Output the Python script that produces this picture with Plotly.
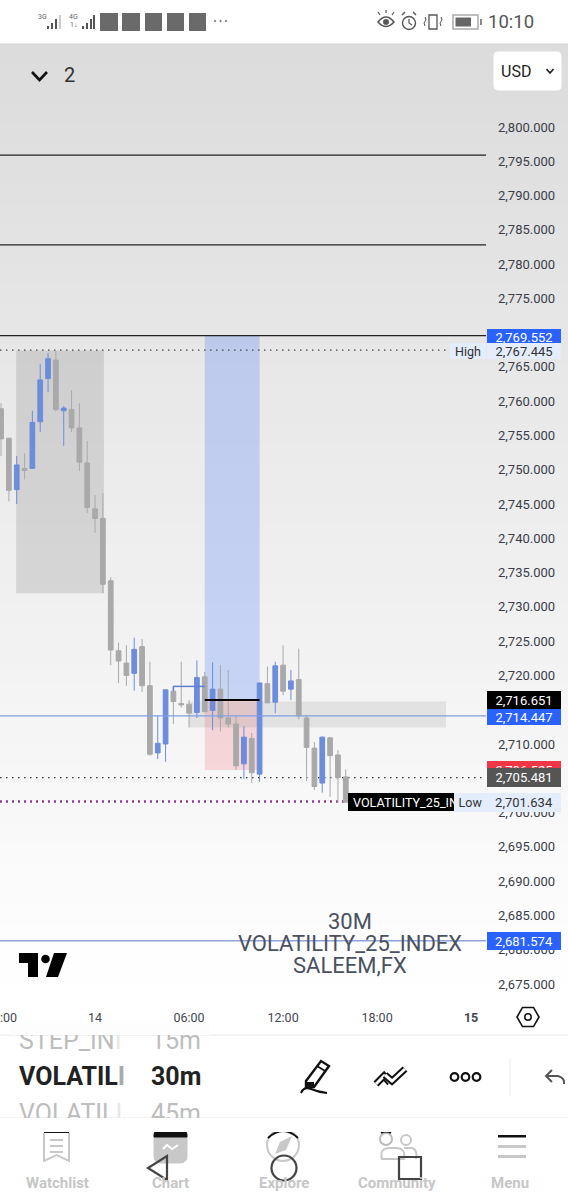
import plotly.graph_objects as go
import pandas as pd
import math

W, H = 568, 1200
CH_T, CH_B, CH_R = 44, 1008, 486

# ---------- data ----------
opens = [2758.9,2754.6,2747.1,2750.2,2750.2,2757.0,2763.3,2766.0,2758.6,2758.8,2756.1,2751.0,2744.3,2742.9,2733.8,2723.6,2721.8,2720.3,2724.2,2718.5,2708.7,2710.0,2717.7,2715.9,2715.8,2714.6,2719.8,2714.9,2718.0,2713.8,2712.9,2707.1,2710.8,2705.6,2718.8,2716.1,2721.5,2718.0,2719.4,2713.8,2709.4,2704.3,2710.9,2708.4,2705.2]
highs = [2759.7,2754.6,2752.0,2752.4,2758.6,2765.4,2767.0,2767.3,2759.3,2761.6,2759.7,2754.2,2746.3,2746.6,2734.3,2724.8,2724.4,2725.5,2725.3,2722.0,2714.1,2717.9,2718.5,2722.0,2716.4,2722.2,2720.5,2721.9,2721.5,2720.8,2714.1,2712.6,2711.6,2718.9,2721.3,2722.0,2724.4,2720.8,2723.9,2714.2,2710.3,2711.1,2711.0,2709.1,2706.3]
lows = [2752.0,2745.4,2745.0,2748.6,2750.2,2755.5,2761.3,2758.5,2753.5,2755.5,2749.8,2743.7,2740.8,2732.0,2721.5,2718.9,2718.5,2717.8,2717.6,2708.3,2707.8,2707.4,2712.9,2715.3,2712.4,2713.8,2714.7,2712.0,2711.8,2712.4,2706.2,2704.9,2704.3,2704.5,2716.0,2714.5,2717.1,2716.4,2713.6,2704.6,2703.3,2702.9,2702.3,2701.4,2701.4]
closes = [2754.5,2747.0,2750.7,2749.9,2756.9,2763.1,2766.2,2758.8,2759.0,2756.1,2751.1,2744.5,2742.9,2733.3,2723.7,2722.1,2720.0,2723.8,2718.5,2708.5,2710.1,2717.9,2716.2,2715.7,2714.5,2719.7,2714.7,2718.0,2713.8,2712.9,2706.8,2711.0,2705.8,2718.9,2716.0,2721.4,2717.7,2719.2,2714.1,2709.5,2703.8,2711.0,2708.3,2705.1,2701.5]
times = pd.date_range("2024-10-13 18:00", periods=len(opens), freq="30min")

price_ticks = [2800,2795,2790,2785,2780,2775,2765,2760,2755,2750,2745,2740,2735,2730,2725,2720,2710,2700,2695,2690,2685,2680,2675]
time_ticks = ["2024-10-14 00:00","2024-10-14 06:00","2024-10-14 12:00","2024-10-14 18:00","2024-10-15 00:00"]
time_labels = ["14","06:00","12:00","18:00","<b>15</b>"]

solid_levels = [2795.9, 2782.8, 2769.55]
zones = [  # x0, x1, y0, y1, colour
    ("2024-10-13 18:58","2024-10-14 00:34",2767.4,2732.0,"rgba(110,110,110,0.20)"),
    ("2024-10-14 07:00","2024-10-14 10:30",2769.5,2716.4,"rgba(41,98,255,0.22)"),
    ("2024-10-14 07:00","2024-10-14 10:30",2716.4,2706.2,"rgba(242,54,69,0.17)"),
    ("2024-10-14 06:00","2024-10-14 22:24",2716.2,2712.4,"rgba(120,120,120,0.15)"),
]
tags = [  # y px, h, text, bg, colour
    (337,16,"2,769.552","#2962ff","#fff"),
    (351,16,"2,767.445","#e3edfb","#333"),
    (700,19,"2,716.651","#000","#fff"),
    (717,16,"2,714.447","#2962ff","#fff"),
    (768,16,"2,706.525","#f23645","#fff"),
    (777,19,"2,705.481","#555","#fff"),
    (802,19,"2,701.634","#e3edfb","#333"),
    (941,18,"2,681.574","#2962ff","#fff"),
]

# ---------- helpers (page pixels to paper) ----------
def X(x): return x / W
def Y(y): return 1 - y / H
shapes, annos = [], []

def rect(x0, y0, x1, y1, fill, layer="above", line=None, lw=1):
    shapes.append(dict(type="rect", xref="paper", yref="paper", x0=X(x0), x1=X(x1), y0=Y(y1), y1=Y(y0),
                       fillcolor=fill, layer=layer, line=dict(width=lw if line else 0, color=line or "rgba(0,0,0,0)")))
def circ(cx, cy, r, fill="rgba(0,0,0,0)", line="#000", lw=1.5):
    shapes.append(dict(type="circle", xref="paper", yref="paper", x0=X(cx-r), x1=X(cx+r), y0=Y(cy+r), y1=Y(cy-r),
                       fillcolor=fill, layer="above", line=dict(width=lw, color=line)))
def poly(pts, fill=None, line="#000", lw=1.5, close=False):
    d = "M" + " L".join(f"{X(a):.5f},{Y(b):.5f}" for a, b in pts) + (" Z" if close else "")
    shapes.append(dict(type="path", xref="paper", yref="paper", path=d, layer="above",
                       fillcolor=fill or "rgba(0,0,0,0)", line=dict(width=lw if line else 0, color=line or "rgba(0,0,0,0)")))
def curve(d, line="#000", lw=1.5, fill="rgba(0,0,0,0)"):
    import re
    nums = re.sub(r"(-?[\d.]+),(-?[\d.]+)", lambda m: f"{X(float(m[1])):.5f},{Y(float(m[2])):.5f}", d)
    shapes.append(dict(type="path", xref="paper", yref="paper", path=nums, layer="above",
                       fillcolor=fill, line=dict(width=lw, color=line)))
def text(x, y, s, size=13, color="#333", anchor="center", family="Roboto", bg=None, w=None, h=None):
    a = dict(xref="paper", yref="paper", x=X(x), y=Y(y), text=s, showarrow=False, xanchor=anchor, yanchor="middle",
             font=dict(size=size, color=color, family=family), borderpad=0, borderwidth=0)
    if bg: a["bgcolor"] = bg
    if w: a["width"] = w
    if h: a["height"] = h
    annos.append(a)

# ---------- background ----------
rect(0, 0, W, H, "#fff", layer="below")
for i in range(48):
    top = 44 + i * 20
    v = round(220 + 35 * i / 47)
    rect(0, top, W, top + 21, f"rgb({v},{v},{v})", layer="below")

# ---------- chart drawings in data coordinates ----------
def dshape(**k):
    k.setdefault("xref", "x"); k.setdefault("yref", "y"); shapes.append(k)
x_l, x_r = "2024-10-13 17:56", "2024-10-15 00:57"
DOT = "1.5px,4.5px"
for z in zones:
    dshape(type="rect", x0=z[0], x1=z[1], y0=z[2], y1=z[3], fillcolor=z[4], line=dict(width=0), layer="below")
for lv in solid_levels:
    dshape(type="line", x0=x_l, x1=x_r, y0=lv, y1=lv, line=dict(color="#222", width=1.2), layer="below")
dshape(type="line", x0=x_l, x1=x_r, y0=2767.445, y1=2767.445, line=dict(color="#444", width=1.4, dash=DOT), layer="below")
dshape(type="line", x0=x_l, x1=x_r, y0=2714.1, y1=2714.1, line=dict(color="#7f9fe6", width=1.2), layer="above")
dshape(type="line", x0=x_l, x1=x_r, y0=2705.1, y1=2705.1, line=dict(color="#333", width=1.4, dash=DOT), layer="below")
dshape(type="line", x0=x_l, x1=x_r, y0=2701.6, y1=2701.6, line=dict(color="#8a3f8f", width=2.4, dash="2px,4px"), layer="below")
dshape(type="line", x0=x_l, x1=x_r, y0=2681.3, y1=2681.3, line=dict(color="#8ea6dc", width=1.5), layer="below")
dshape(type="line", x0="2024-10-14 05:00", x1="2024-10-14 07:00", y0=2718.4, y1=2718.4, line=dict(color="#5d80cf", width=1.5), layer="above")
dshape(type="line", x0="2024-10-14 05:00", x1="2024-10-14 05:00", y0=2718.4, y1=2717.7, line=dict(color="#5d80cf", width=1.5), layer="above")
dshape(type="line", x0="2024-10-14 07:00", x1="2024-10-14 10:30", y0=2716.4, y1=2716.4, line=dict(color="#000", width=2), layer="above")

# ---------- price tags ----------
for y, h, s, bg, c in tags:
    if s == "2,706.525":
        text(524, 770, s, 13, c, bg=bg, w=74, h=19)
rect(348, 793, 486, 811, "#000")
text(353, 802, "VOLATILITY_25_INDEX", 12.6, "#fff", "left")
for y, h, s, bg, c in tags:
    if s != "2,706.525":
        text(524, y, s, 13, c, bg=bg, w=74, h=h)
text(468, 351, "High", 12.5, "#333", bg="#e3edfb", w=36, h=16)
text(470, 802, "Low", 12.5, "#333", bg="#e3edfb", w=33, h=19)
text(0, 1017, ":00", 12.5, "#434651", "left")

# ---------- watermark & logo ----------
text(350, 921, "30M", 22, "#4a5160")
text(350, 943, "VOLATILITY_25_INDEX", 22, "#4a5160")
text(350, 965, "SALEEM,FX", 22, "#4a5160")
poly([(19,953),(38,953),(38,977),(28,977),(28,963),(19,963)], fill="#000", line=None, close=True)
circ(45.5, 959, 4.3, fill="#000", line="#000", lw=0)
poly([(54,953),(67,953),(58,977),(46,977)], fill="#000", line=None, close=True)

# ---------- status bar ----------
rect(0, 0, W, 44, "#fff")
shapes.append(dict(type="line", xref="paper", yref="paper", x0=0, x1=1, y0=Y(44), y1=Y(44), layer="above", line=dict(color="#d0d0d0", width=1)))
text(42, 17, "3G", 7, "#666", family="Roboto")
text(73, 17, "4G", 7, "#666")
for x0, hh, c in [(47,3,"#555"),(51,6,"#555"),(55,10,"#555"),(59,14,"#ccc")]:
    rect(x0, 29 - hh, x0 + 2, 29, c)
for x0, hh in [(82,3),(86,6),(90,10),(93,14)]:
    rect(x0, 29 - hh, x0 + 2, 29, "#555")
text(73, 25, "1↓", 7, "#666")
for x0, x1 in [(100,118),(122,140),(145,162),(167,184),(189,206)]:
    rect(x0, 13, x1, 31, "#6a6a6a")
for cx in (215, 220.5, 226):
    circ(cx, 21, 0.8, fill="#666", line="#666", lw=0.5)
curve("M378,22 Q386,12 394,22 Q386,31 378,22 Z", "#555", 1.5)
circ(386, 22, 2.8, fill="#555", line="#555", lw=0.5)
for a, b, c, d in [(380,15,378,12),(386,13,386,10),(392,15,394,12)]:
    poly([(a,b),(c,d)], line="#555", lw=1.2)
circ(409, 23, 6.5, line="#555", lw=1.4)
poly([(409,19),(409,23),(412,25)], line="#555", lw=1.2)
poly([(402,15),(405,12)], line="#555", lw=1.4); poly([(416,15),(413,12)], line="#555", lw=1.4)
rect(429, 15, 437, 29, "rgba(0,0,0,0)", line="#555", lw=1.3)
for x0 in (425, 441):
    poly([(x0,17),(x0+1,20),(x0-1,23),(x0,26)], line="#555", lw=1)
rect(453, 15, 478, 29, "rgba(0,0,0,0)", line="#aaa", lw=1.5)
rect(455.5, 17.5, 471, 26.5, "#666")
rect(480, 19, 482, 25, "#888")
text(511, 22, "10:10", 18.5, "#555")

# ---------- header ----------
poly([(32,72),(39.5,80),(47,72)], line="#111", lw=2.6)
text(69, 75, "2", 20, "#333")
curve("M498,52 L557,52 Q561,52 561,56 L561,86 Q561,90 557,90 L498,90 Q494,90 494,86 L494,56 Q494,52 498,52 Z", "#fff", 1, fill="#fff")
text(516, 71, "USD", 16, "#222")
poly([(546.5,69),(550,73),(553.5,69)], line="#222", lw=1.8)

# ---------- gear, bottom panel ----------
R = 11
poly([(528 + R*math.cos(k*math.pi/3), 1017 + R*math.sin(k*math.pi/3)) for k in range(6)], line="#111", lw=1.6, close=True)
circ(528, 1017, 3.2, line="#111", lw=1.5)
rect(0, 1035, W, H, "#fff")
shapes.append(dict(type="line", xref="paper", yref="paper", x0=0, x1=1, y0=Y(1035), y1=Y(1035), layer="above", line=dict(color="#e6e6e6", width=1)))

text(19, 1040, "STEP_IN<span style='color:#e8e8e8'>I</span>", 25, "#bdbdbd", "left")
text(151, 1040, "15m", 25, "#bdbdbd", "left")
text(19, 1113, "VOLATIL<span style='color:#e8e8e8'>I</span>", 25, "#bdbdbd", "left")
text(151, 1113, "45m", 25, "#bdbdbd", "left")
text(110, 1029, " ", 6, "#fff", bg="#fdfdfd", w=200, h=12)
text(284, 1125, " ", 6, "#fff", bg="#fff", w=568, h=14)
text(19, 1076, "<b>VOLATIL</b><span style='color:#aaa'><b>I</b></span>", 25, "#222", "left")
text(151, 1076, "<b>30m</b>", 25, "#222", "left")
shapes.append(dict(type="line", xref="paper", yref="paper", x0=0, x1=1, y0=Y(1118), y1=Y(1118), layer="above", line=dict(color="#e6e6e6", width=1)))

# pencil
poly([(306,1081),(321,1061),(329,1066),(314,1087),(306,1087)], line="#111", lw=2.4, close=True)
poly([(317,1066),(325,1071)], line="#111", lw=1.8)
rect(306, 1082, 314, 1087, "#111")
curve("M301,1093 Q304,1086 311,1089 T327,1093", "#111", 2)
# line tools
poly([(376,1084),(384,1076),(390,1083)], line="#111", lw=7)
poly([(376,1084),(384,1076),(390,1083)], line="#fff", lw=3)
poly([(385,1075),(392,1081),(405,1069)], line="#111", lw=7)
poly([(385,1075),(392,1081),(405,1069)], line="#fff", lw=3)
for cx in (454.5, 465.5, 476.5):
    circ(cx, 1077, 3.8, line="#111", lw=2.2)
shapes.append(dict(type="line", xref="paper", yref="paper", x0=X(510), x1=X(510), y0=Y(1058), y1=Y(1096), layer="above", line=dict(color="#eee", width=1)))
poly([(552,1070),(546,1076),(552,1082)], line="#555", lw=2)
curve("M546,1076 L558,1076 Q565,1078 564,1084", "#555", 2)

# nav icons
G = "#c8c8c8"
rect(44, 1131, 69, 1133, "#111")
poly([(44,1133),(44,1161),(56.5,1155),(69,1161),(69,1133)], line=G, lw=2)
for yy in (1140, 1146, 1152):
    poly([(50,yy),(63,yy)], line=G, lw=2)
curve("M154,1137 L187,1137 L187,1156 Q187,1163 180,1163 L161,1163 Q154,1163 154,1156 Z", G, 1, fill=G)
curve("M154,1137 L187,1137 L187,1135 Q187,1130 181,1130 L160,1130 Q154,1130 154,1135 Z", "#111", 1, fill="#111")
poly([(163,1149),(167,1145),(172,1149),(178,1145)], line="#fff", lw=2)
circ(283, 1145, 16, line=G, lw=2)
curve("M268,1138 Q283,1124 298,1138", "#111", 2)
poly([(292,1136),(286,1150),(275,1154),(280,1142)], fill=G, line=None, close=True)
circ(386, 1139, 6, line="#bbb", lw=2); circ(406, 1140, 5, line=G, lw=2)
curve("M381,1133 Q386,1130 391,1133", "#111", 2)
curve("M382,1159 Q379,1148 390,1148 L396,1148 Q406,1148 404,1159 Z", G, 2)
curve("M404,1148 L412,1148 Q418,1150 416,1159", G, 2)
rect(498, 1135, 526, 1137.5, "#111")
for yy in (1145, 1155):
    rect(498, yy, 526, yy + 3, G)
for x, s in [(57,"Watchlist"),(170,"Chart"),(284,"Explore"),(397,"Community"),(510,"Menu")]:
    text(x, 1183, f"<b>{s}</b>", 15, "#c6c6c6")
poly([(167,1156),(167,1180),(148,1168)], line="#444", lw=2.2, close=True)
circ(284, 1168, 12.5, line="#444", lw=2.2)
rect(399, 1157, 421, 1179, "rgba(0,0,0,0)", line="#444", lw=2.2)

# ---------- figure ----------
fig = go.Figure(go.Candlestick(
    x=times, open=opens, high=highs, low=lows, close=closes,
    increasing=dict(line=dict(color="#6c8cdc", width=1), fillcolor="#6c8cdc"),
    decreasing=dict(line=dict(color="#a9a9a9", width=1), fillcolor="#a9a9a9"),
    whiskerwidth=0, hoverinfo="skip", showlegend=False))
fig.update_layout(
    width=W, height=H, margin=dict(l=0, r=0, t=0, b=0), autosize=False,
    paper_bgcolor="#fff", plot_bgcolor="rgba(0,0,0,0)", boxgap=0.14, hovermode=False, showlegend=False,
    shapes=shapes, annotations=annos,
    xaxis=dict(domain=[0, CH_R / W], range=[x_l, x_r], type="date", rangeslider=dict(visible=False),
               tickmode="array", tickvals=time_ticks, ticktext=time_labels, tickangle=0, showgrid=False, zeroline=False,
               showline=False, ticks="", ticklen=0, tickfont=dict(family="Roboto", size=12.5, color="#434651"), fixedrange=True),
    yaxis=dict(domain=[Y(CH_B), Y(CH_T)], range=[2671.49, 2812.1], side="right", tickmode="array", tickvals=price_ticks,
               tickformat=",.3f", showgrid=False, zeroline=False, showline=False, ticks="", ticklen=0,
               ticklabelstandoff=11, tickfont=dict(family="Roboto", size=13, color="#3a3e4a"), fixedrange=True),
)
fig.write_html("out.html", config={"displayModeBar": False},
               post_script="document.body.style.margin='0';document.documentElement.style.overflow='hidden';")
